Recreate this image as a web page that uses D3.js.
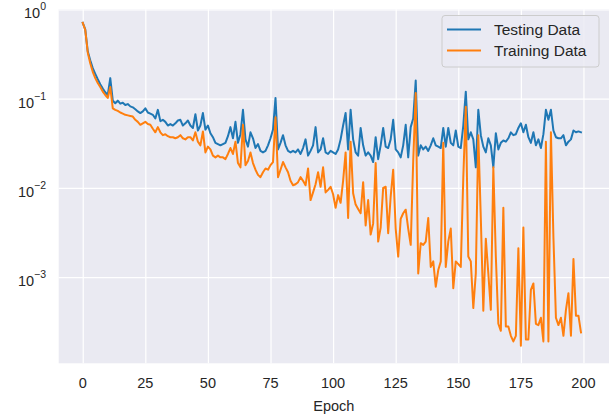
<!DOCTYPE html>
<html>
<head>
<meta charset="utf-8">
<script src="https://cdn.jsdelivr.net/npm/d3@7"></script>
<style>
  html, body { margin: 0; padding: 0; background: #ffffff; }
  svg { display: block; }
</style>
</head>
<body>
<svg id="chart" width="609" height="419"></svg>
<script>
// ---- data ----
const seriesNames = ["Testing Data", "Training Data"];
const xTicks = [0, 25, 50, 75, 100, 125, 150, 175, 200];
const yTickExponents = [0, -1, -2, -3];

const testing = [
  0.71, 0.60, 0.34, 0.27, 0.22, 0.19, 0.165, 0.145, 0.13, 0.118,
  0.11, 0.17, 0.095, 0.089, 0.095, 0.088, 0.09, 0.085, 0.087, 0.082,
  0.08, 0.076, 0.072, 0.069, 0.072, 0.078, 0.07, 0.068, 0.066, 0.06,
  0.075, 0.056, 0.058, 0.055, 0.05, 0.052, 0.05, 0.053, 0.057, 0.058,
  0.05, 0.053, 0.057, 0.05, 0.047, 0.067, 0.044, 0.05, 0.069, 0.045,
  0.05, 0.041, 0.037, 0.032, 0.031, 0.030, 0.031, 0.032, 0.038, 0.048,
  0.036, 0.055, 0.032, 0.04, 0.075, 0.035, 0.029, 0.042, 0.036, 0.028,
  0.031, 0.026, 0.025, 0.026, 0.03, 0.036, 0.045, 0.102, 0.027, 0.032,
  0.039, 0.03, 0.026, 0.025, 0.026, 0.025, 0.027, 0.024, 0.028, 0.035,
  0.023, 0.026, 0.03, 0.048, 0.025, 0.027, 0.036, 0.025, 0.024, 0.026,
  0.025, 0.024, 0.027, 0.035, 0.05, 0.069, 0.027, 0.075, 0.035, 0.025,
  0.023, 0.047, 0.03, 0.023, 0.025, 0.023, 0.0195, 0.037, 0.021, 0.03,
  0.047, 0.029, 0.028, 0.035, 0.058, 0.027, 0.025, 0.022, 0.03, 0.051,
  0.022, 0.048, 0.06, 0.16, 0.023, 0.03, 0.027, 0.029, 0.026, 0.03,
  0.036, 0.03, 0.029, 0.028, 0.047, 0.029, 0.047, 0.032, 0.03, 0.044,
  0.029, 0.028, 0.05, 0.12, 0.035, 0.042, 0.035, 0.017, 0.075, 0.039,
  0.029, 0.025, 0.036, 0.03, 0.017, 0.041, 0.027, 0.032, 0.034, 0.033,
  0.036, 0.042, 0.039, 0.04, 0.047, 0.053, 0.042, 0.051, 0.037, 0.032,
  0.042, 0.03, 0.035, 0.028, 0.04, 0.075, 0.058, 0.075, 0.044, 0.037,
  0.036, 0.036, 0.039, 0.03, 0.033, 0.035, 0.044, 0.042, 0.043, 0.042
];

const training = [
  0.71, 0.59, 0.33, 0.25, 0.2, 0.17, 0.15, 0.135, 0.12, 0.11,
  0.102, 0.135, 0.078, 0.075, 0.073, 0.07, 0.068, 0.066, 0.065, 0.064,
  0.063, 0.058, 0.055, 0.051, 0.053, 0.055, 0.052, 0.051, 0.046, 0.042,
  0.048, 0.042, 0.039, 0.04, 0.038, 0.037, 0.037, 0.036, 0.037, 0.039,
  0.036, 0.035, 0.037, 0.037, 0.034, 0.042, 0.033, 0.030, 0.043, 0.025,
  0.029, 0.027, 0.023, 0.022, 0.023, 0.022, 0.022, 0.021, 0.024, 0.028,
  0.024, 0.033, 0.019, 0.017, 0.051, 0.018, 0.02, 0.025, 0.019, 0.016,
  0.014, 0.0132, 0.015, 0.0165, 0.016, 0.018, 0.0195, 0.062, 0.0132, 0.016,
  0.0195, 0.017, 0.015, 0.012, 0.0107, 0.011, 0.0116, 0.0132, 0.012, 0.0107,
  0.0165, 0.0073, 0.0089, 0.011, 0.015, 0.0103, 0.017, 0.0089, 0.0095, 0.0103,
  0.0085, 0.006, 0.0083, 0.0068, 0.012, 0.025, 0.0046, 0.033, 0.0087, 0.0065,
  0.0058, 0.0052, 0.0116, 0.0038, 0.0073, 0.003, 0.004, 0.019, 0.0025, 0.0036,
  0.01, 0.0103, 0.0031, 0.008, 0.016, 0.0035, 0.0017, 0.0045, 0.0052, 0.0057,
  0.0035, 0.0023, 0.02, 0.116, 0.0011, 0.0024, 0.0023, 0.0025, 0.0046, 0.0013,
  0.0015, 0.00078, 0.0012, 0.0015, 0.032, 0.0013, 0.0025, 0.0035, 0.00075, 0.0015,
  0.0014, 0.0013, 0.013, 0.081, 0.0017, 0.0015, 0.00045, 0.0011, 0.039, 0.0046,
  0.00042, 0.0027, 0.0011, 0.00043, 0.017, 0.0017, 0.0003, 0.00025, 0.006, 0.00028,
  0.00028, 0.00022, 0.00019, 0.00022, 0.0021, 0.00017, 0.0036, 0.0002, 0.0002, 0.00072,
  0.00085, 0.0003, 0.00029, 0.00035, 0.00019, 0.033, 0.00019, 0.042, 0.0028, 0.00035,
  0.00029, 0.00035, 0.00022, 0.00043, 0.00066, 0.00022, 0.0016, 0.00037, 0.00037, 0.00024
];

// ---- layout ----
const svg = d3.select("#chart");
const plot = { left: 58.7, top: 9.3, right: 609, bottom: 363.3 };
const colors = ["#1f77b4", "#ff7f0e"];
const font = "'Liberation Sans', Arial, sans-serif";
const textColor = "#262626";

const x = d3.scaleLinear().domain([-9.6, 210.2]).range([plot.left, plot.right]);
const y = d3.scaleLog().domain([Math.pow(10, -3.966), Math.pow(10, 0.002)]).range([plot.bottom, plot.top]);

// background
svg.append("rect")
  .attr("x", plot.left).attr("y", plot.top)
  .attr("width", plot.right - plot.left).attr("height", plot.bottom - plot.top)
  .attr("fill", "#eaeaf2");

// grid via axes
const xAxis = d3.axisBottom(x).tickValues(xTicks).tickSize(-(plot.bottom - plot.top)).tickFormat("");
const gx = svg.append("g").attr("transform", `translate(0,${plot.bottom})`).call(xAxis);
gx.select(".domain").remove();
gx.selectAll(".tick line").attr("stroke", "#ffffff").attr("stroke-width", 1.2);

const yVals = yTickExponents.map(e => Math.pow(10, e));
const yAxis = d3.axisLeft(y).tickValues(yVals).tickSize(-(plot.right - plot.left)).tickFormat("");
const gy = svg.append("g").attr("transform", `translate(${plot.left},0)`).call(yAxis);
gy.select(".domain").remove();
gy.selectAll(".tick line").attr("stroke", "#ffffff").attr("stroke-width", 1.2);

// clip
svg.append("clipPath").attr("id", "clip").append("rect")
  .attr("x", plot.left).attr("y", plot.top)
  .attr("width", plot.right - plot.left).attr("height", plot.bottom - plot.top);

const line = d3.line().x((d, i) => x(i)).y(d => y(d));
[testing, training].forEach((s, k) => {
  svg.append("path")
    .attr("clip-path", "url(#clip)")
    .attr("d", line(s))
    .attr("fill", "none")
    .attr("stroke", colors[k])
    .attr("stroke-width", 2)
    .attr("stroke-linejoin", "round")
    .attr("stroke-linecap", "square");
});

// x tick labels
svg.append("g").selectAll("text").data(xTicks).join("text")
  .attr("x", d => x(d)).attr("y", 388)
  .attr("text-anchor", "middle")
  .attr("font-family", font).attr("font-size", 14.5)
  .attr("fill", textColor)
  .text(d => d);

// x axis label
svg.append("text")
  .attr("x", (plot.left + plot.right) / 2).attr("y", 410.5)
  .attr("text-anchor", "middle")
  .attr("font-family", font).attr("font-size", 14.5)
  .attr("fill", textColor)
  .text("Epoch");

// y tick labels
const yl = svg.append("g").selectAll("text").data(yTickExponents).join("text")
  .attr("x", 46).attr("y", d => y(Math.pow(10, d)) + 9)
  .attr("text-anchor", "end")
  .attr("font-family", font).attr("font-size", 14.5)
  .attr("fill", textColor);
yl.append("tspan").text("10");
yl.append("tspan").attr("dy", -8).attr("font-size", 10.5)
  .text(d => d === 0 ? "0" : "\u2212" + Math.abs(d));

// legend
const lg = svg.append("g");
lg.append("rect")
  .attr("x", 442).attr("y", 15.5).attr("width", 157).attr("height", 51.5)
  .attr("rx", 3).attr("ry", 3)
  .attr("fill", "#eaeaf2").attr("fill-opacity", 0.8)
  .attr("stroke", "#cccccc").attr("stroke-width", 1);
seriesNames.forEach((name, k) => {
  const cy = 29.5 + k * 21;
  lg.append("line")
    .attr("x1", 447).attr("x2", 481).attr("y1", cy).attr("y2", cy)
    .attr("stroke", colors[k]).attr("stroke-width", 2);
  lg.append("text")
    .attr("x", 494).attr("y", cy + 5.3)
    .attr("font-family", font).attr("font-size", 15.5)
    .attr("fill", textColor)
    .text(name);
});
</script>
</body>
</html>
